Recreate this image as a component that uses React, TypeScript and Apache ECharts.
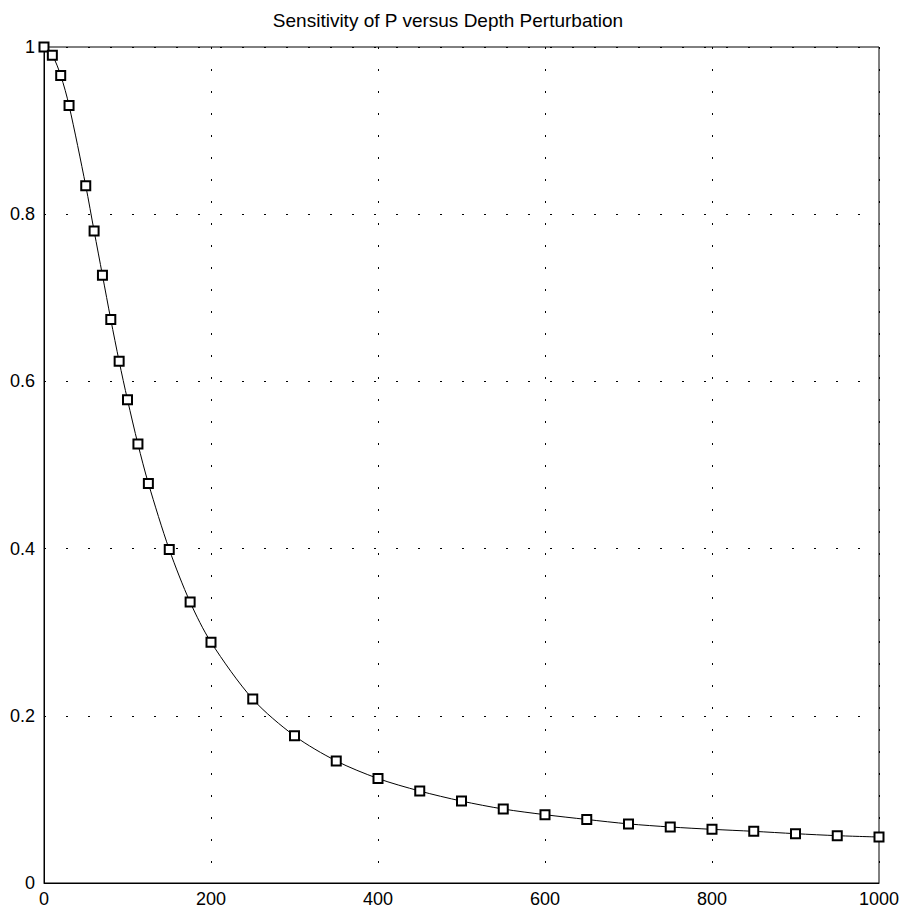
import React, { useEffect, useRef } from "react";
import * as echarts from "echarts";

const titleText = "Sensitivity of P versus Depth Perturbation";
const depth = [0, 10, 20, 30, 50, 60, 70, 80, 90, 100, 112.5, 125, 150, 175, 200, 250, 300, 350, 400, 450, 500, 550, 600, 650, 700, 750, 800, 850, 900, 950, 1000];
const sensitivity = [1.0, 0.99, 0.966, 0.93, 0.834, 0.78, 0.727, 0.674, 0.624, 0.578, 0.525, 0.478, 0.399, 0.336, 0.288, 0.22, 0.176, 0.146, 0.125, 0.11, 0.098, 0.0885, 0.0817, 0.076, 0.0707, 0.067, 0.0642, 0.0618, 0.059, 0.0566, 0.055];

export default function App() {
  const ref = useRef<HTMLDivElement>(null);
  useEffect(() => {
    if (!ref.current) return;
    const chart = echarts.init(ref.current, undefined, { renderer: "svg" });
    const font = "'Liberation Sans', Arial, sans-serif";
    chart.setOption({
      animation: false,
      backgroundColor: "#ffffff",
      graphic: [
        {
          type: "text",
          x: 448,
          y: 20,
          style: {
            text: titleText,
            fontFamily: font,
            fontSize: 19,
            fill: "#000",
            textAlign: "center",
            textVerticalAlign: "middle",
          },
        },
      ],
      grid: {
        left: 44,
        right: 25,
        top: 47,
        bottom: 26,
        show: true,
        borderColor: "#000",
        borderWidth: 1,
        containLabel: false,
      },
      xAxis: {
        type: "value",
        min: 0,
        max: 1000,
        interval: 200,
        axisLine: { show: true, lineStyle: { color: "#000", width: 1 } },
        axisTick: { show: false },
        axisLabel: { color: "#000", fontFamily: font, fontSize: 18, margin: 7, formatter: (v: number) => String(v) },
        splitLine: { show: true, lineStyle: { color: "#000", width: 1, type: [2, 20] } },
      },
      yAxis: {
        type: "value",
        min: 0,
        max: 1,
        interval: 0.2,
        axisLine: { show: true, lineStyle: { color: "#000", width: 1 } },
        axisTick: { show: false },
        axisLabel: { color: "#000", fontFamily: font, fontSize: 18, margin: 9, formatter: (v: number) => String(Math.round(v * 10) / 10) },
        splitLine: { show: true, lineStyle: { color: "#000", width: 1, type: [2, 20] } },
      },
      series: [
        {
          type: "line",
          data: depth.map((d, i) => [d, sensitivity[i]]),
          smooth: 0.3,
          symbol: "emptyRect",
          symbolSize: 9,
          showAllSymbol: true,
          lineStyle: { color: "#000", width: 1 },
          itemStyle: { color: "#000", borderColor: "#000", borderWidth: 0.8 },
          clip: false,
        },
      ],
    });
    return () => chart.dispose();
  }, []);
  return (
    <div
      ref={ref}
      style={{ position: "fixed", left: 0, top: 0, width: 904, height: 909 }}
    />
  );
}
